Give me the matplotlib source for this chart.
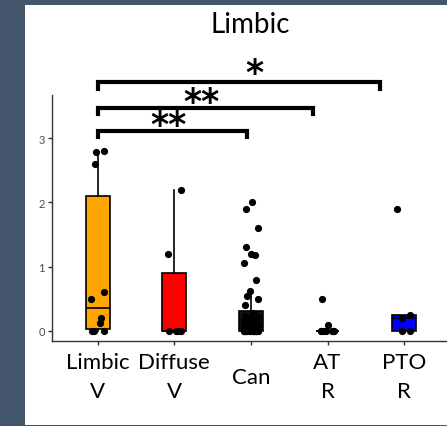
import numpy as np
import matplotlib
matplotlib.use("Agg")
import matplotlib.pyplot as plt
import matplotlib.transforms as mtrans
from matplotlib.patches import Rectangle

plt.rcParams['font.family'] = ['Lato', 'DejaVu Sans']

# ---- data ----
categories = ['Limbic\nV', 'Diffuse\nV', 'Can', 'AT\nR', 'PTO\nR']
limbic_v = [2.8, 2.78, 2.6, 0.6, 0.5, 0.2, 0.12, 0.0, 0.0, 0.0]
diffuse_v = [2.2, 1.2, 0.0, 0.0, 0.0, 0.0]
can = [2.0, 1.9, 1.6, 1.3, 1.2, 1.18, 1.05, 0.8, 0.62, 0.55, 0.5, 0.4,
       0.28, 0.26, 0.24, 0.22, 0.2, 0.2, 0.18, 0.17, 0.15, 0.13, 0.12, 0.1,
       0.1, 0.08, 0.06, 0.05, 0.05, 0.04, 0.03, 0.02,
       0, 0, 0, 0, 0, 0, 0, 0, 0, 0, 0, 0, 0, 0, 0, 0]
at_r = [0.5, 0.1, 0, 0, 0, 0, 0, 0, 0]
pto_r = [1.9, 0.25, 0.2, 0.0, 0.0]
groups = [limbic_v, diffuse_v, can, at_r, pto_r]
box_colors = ['#FFA500', '#FF0000', '#111111', '#FFFFFF', '#0000FF']

# significance brackets: (left group, right end, height, label)
brackets = [(1, 2.95, 3.11, '**'), (1, 3.81, 3.47, '**'), (1, 4.69, 3.87, '*')]

W, H = 447, 427
fig = plt.figure(figsize=(W / 100, H / 100), dpi=100)
fig.patch.set_facecolor('#44546A')
fig.patches.append(Rectangle((25 / W, 1 / H), 1 - 25 / W, (426 - 6) / H,
                             transform=fig.transFigure, facecolor='white',
                             edgecolor='none', zorder=-10))

ax = fig.add_axes([52 / W, (H - 342) / H, (W - 52) / W, (342 - 96) / H])
ax.set_facecolor('none')

pos = np.arange(1, len(groups) + 1)
bp = ax.boxplot(groups, positions=pos, widths=0.31, patch_artist=True,
                showfliers=False, showcaps=False, whis=1.5,
                medianprops=dict(color='black', lw=1.2),
                whiskerprops=dict(color='black', lw=1.2),
                boxprops=dict(edgecolor='black', lw=1.2))
for patch, c in zip(bp['boxes'], box_colors):
    patch.set_facecolor(c)

# deterministic jitter
for p, vals in zip(pos, groups):
    n = len(vals)
    offs = 0.09 * np.sin(np.arange(n) * 2.399 + p)
    ax.scatter(p + offs, vals, s=27, color='black', zorder=3, linewidths=0)

ax.set_xlim(0.403, 5.56)
ax.set_ylim(-0.156, 3.67)
ax.set_yticks([0, 1, 2, 3])
ax.set_xticks(pos)
ax.set_xticklabels([''] * len(pos))
ax.tick_params(axis='y', labelsize=8, labelcolor='#4D4D4D', color='#333333',
               length=3, width=1, pad=2)
ax.tick_params(axis='x', color='#333333', length=3, width=1)
for s in ['top', 'right']:
    ax.spines[s].set_visible(False)
for s in ['left', 'bottom']:
    ax.spines[s].set_color('#333333')
    ax.spines[s].set_linewidth(1)

# category labels
lab_tr = mtrans.blended_transform_factory(ax.transData, fig.transFigure)
for p, lab in zip(pos, categories):
    lines = lab.split('\n')
    if len(lines) == 2:
        ax.text(p, (H - 363) / H, lines[0], transform=lab_tr,
                ha='center', va='center', fontsize=16)
        ax.text(p, (H - 392) / H, lines[1], transform=lab_tr,
                ha='center', va='center', fontsize=16)
    else:
        ax.text(p, (H - 378) / H, lab, transform=lab_tr,
                ha='center', va='center', fontsize=16)

# brackets
for x0, x1, y, lab in brackets:
    ax.plot([x0, x0, x1, x1], [y - 0.1, y, y, y - 0.1], color='black', lw=3,
            clip_on=False, solid_joinstyle='miter')
    lift = -0.02 if lab == '*' else -0.06
    ax.text((x0 + x1) / 2 + (0.2 if lab == '*' else -0.05), y + lift, lab,
            ha='center', va='baseline', fontsize=25, fontweight='bold',
            family='DejaVu Sans', clip_on=False)

fig.text(250 / W, 1 - 25 / H, 'Limbic', ha='center', va='center', fontsize=20)

fig.savefig('out.png', dpi=100, facecolor=fig.get_facecolor())
